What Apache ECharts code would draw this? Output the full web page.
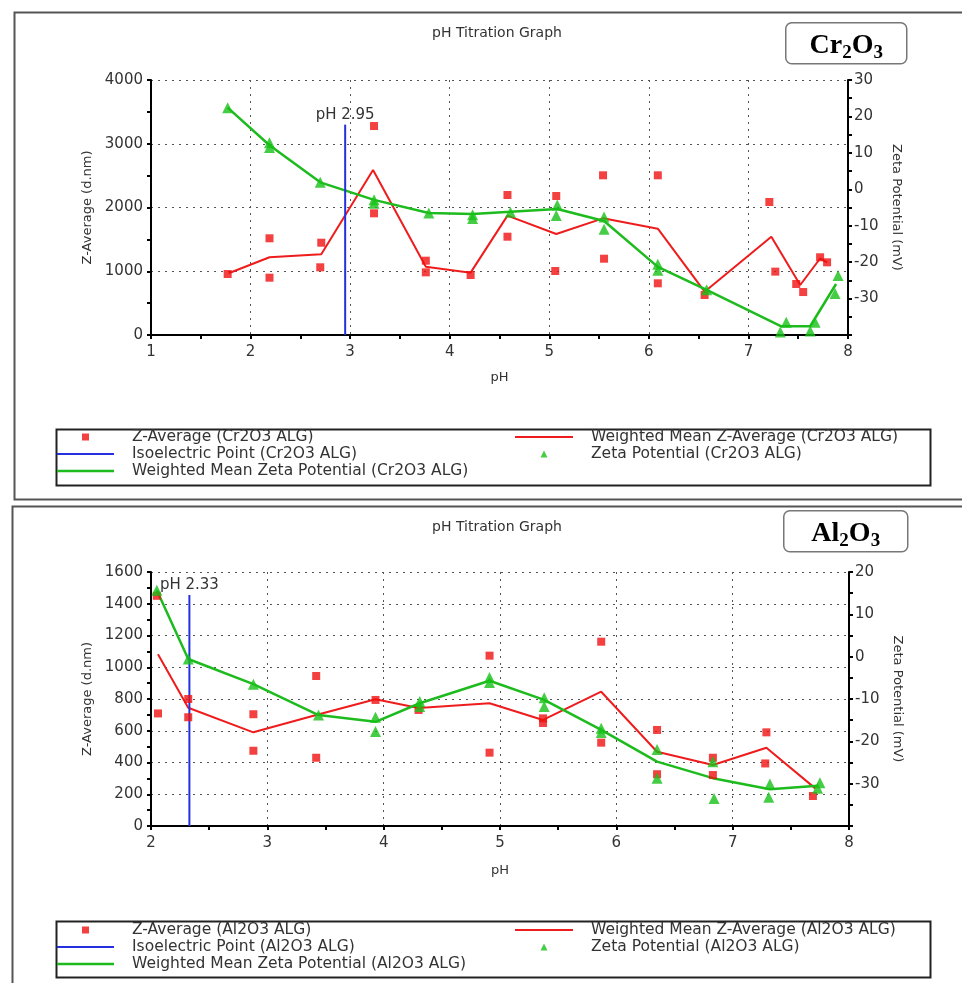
<!DOCTYPE html>
<html>
<head>
<meta charset="utf-8">
<script src="https://cdn.jsdelivr.net/npm/echarts@6/dist/echarts.min.js"></script>
<style>
  html, body { margin: 0; padding: 0; background: #fff; }
  #main { width: 962px; height: 983px; }
</style>
</head>
<body>
<div id="main"></div>
<script>
// --- Cr2O3 panel (pH, value) ---
const crZAvg = [[1.77,957],[2.19,1517],[2.19,899],[2.71,1448],[2.70,1062],[3.24,3278],[3.24,1909],
  [3.76,1166],[3.76,983],[4.21,941],[4.58,2196],[4.58,1542],[5.07,2180],[5.06,1004],[5.54,2505],
  [5.55,1197],[6.09,2505],[6.09,811],[6.56,627],[7.21,2086],[7.27,994],[7.48,800],[7.55,674],
  [7.72,1219],[7.79,1140]];
const crZAvgMean = [[1.78,968],[2.19,1219],[2.71,1266],[3.23,2588],[3.76,1072],[4.21,978],[4.58,1872],
  [5.07,1584],[5.54,1830],[6.09,1668],[6.56,680],[7.23,1542],[7.52,784],[7.72,1200],[7.79,1140]];
const crZeta = [[1.77,22.4],[2.19,12.8],[2.19,11.5],[2.70,1.9],[3.24,-2.9],[3.24,-3.8],[3.79,-6.5],
  [4.23,-7.0],[4.23,-8.0],[4.61,-6.3],[5.08,-4.3],[5.07,-7.2],[5.55,-7.6],[5.55,-11.0],[6.09,-20.6],
  [6.09,-22.2],[6.58,-27.6],[7.38,-36.5],[7.32,-39.2],[7.62,-38.9],[7.67,-36.5],[7.87,-28.6],[7.90,-23.7]];
const crZetaMean = [[1.77,22.4],[2.19,12.1],[2.70,1.9],[3.24,-2.9],[3.79,-6.5],[4.23,-6.8],[4.61,-6.2],
  [5.08,-5.4],[5.55,-8.7],[6.09,-21.3],[6.58,-27.6],[7.33,-37.6],[7.62,-37.6],[7.88,-26.0]];
const crIEP = [[2.95,0],[2.95,3300]];

// --- Al2O3 panel ---
const alZAvg = [[2.05,1450],[2.06,709],[2.32,800],[2.32,685],[2.88,704],[2.88,474],[3.42,945],[3.42,430],
  [3.93,794],[4.30,731],[4.91,1073],[4.91,462],[5.37,678],[5.37,649],[5.87,1161],[5.87,525],[6.35,605],
  [6.35,326],[6.83,430],[6.83,321],[7.29,590],[7.28,394],[7.69,189]];
const alZAvgMean = [[2.06,1082],[2.32,745],[2.88,590],[3.42,699],[3.93,798],[4.30,743],[4.91,773],
  [5.37,668],[5.87,846],[6.35,468],[6.83,384],[7.29,493],[7.71,237]];
const alZeta = [[2.05,15.7],[2.32,-0.55],[2.88,-6.5],[3.44,-13.8],[3.93,-14.3],[3.93,-17.7],[4.31,-10.6],
  [4.31,-11.8],[4.91,-4.9],[4.91,-6.1],[5.38,-9.7],[5.38,-11.8],[5.87,-16.9],[5.87,-17.9],[6.35,-21.9],
  [6.35,-28.7],[6.83,-24.8],[6.84,-33.5],[7.32,-30.1],[7.31,-33.2],[7.73,-31.1],[7.75,-29.8]];
const alZetaMean = [[2.05,15.7],[2.32,-0.55],[2.88,-6.5],[3.44,-13.8],[3.93,-15.4],[4.31,-11.0],[4.91,-5.7],
  [5.38,-10.2],[5.87,-17.3],[6.35,-24.8],[6.83,-28.7],[7.32,-31.3],[7.73,-30.5]];
const alIEP = [[2.33,0],[2.33,1455]];

const RED = '#ee1c1c', GREEN = '#1dbb1d', BLUE = '#2430e0';
const FONT = 'DejaVu Sans';
const TXT = '#333';

const chart = echarts.init(document.getElementById('main'));

function xAxisOf(gi, min, max, gap) {
  return {
    gridIndex: gi, type: 'value', min: min, max: max, interval: 1,
    name: 'pH', nameLocation: 'middle', nameGap: gap,
    nameTextStyle: { color: TXT, fontFamily: FONT, fontSize: 13 },
    axisLine: { show: true, onZero: false, lineStyle: { color: '#000', width: 2 } },
    axisTick: { show: true, length: 4, lineStyle: { color: '#000', width: 2 } },
    minorTick: { show: true, splitNumber: 2, length: 4, lineStyle: { color: '#000', width: 2 } },
    splitLine: { show: true, lineStyle: { color: '#555', type: [2, 5], width: 1 } },
    axisLabel: { color: TXT, fontFamily: FONT, fontSize: 15, margin: 10, formatter: v => String(v) }
  };
}
function leftAxisOf(gi, max, step) {
  return {
    gridIndex: gi, type: 'value', min: 0, max: max, interval: step, position: 'left',
    name: 'Z-Average (d.nm)', nameLocation: 'middle', nameGap: 57, nameRotate: 90,
    nameTextStyle: { color: TXT, fontFamily: FONT, fontSize: 13 },
    axisLine: { show: true, onZero: false, lineStyle: { color: '#000', width: 2 } },
    axisTick: { show: true, length: 4, lineStyle: { color: '#000', width: 2 } },
    minorTick: { show: true, splitNumber: 2, length: 4, lineStyle: { color: '#000', width: 2 } },
    splitLine: { show: true, lineStyle: { color: '#555', type: [2, 5], width: 1 } },
    axisLabel: { color: TXT, fontFamily: FONT, fontSize: 15, margin: 8, formatter: v => String(v) }
  };
}
function rightAxisOf(gi, min, max) {
  return {
    gridIndex: gi, type: 'value', min: min, max: max, interval: 10, position: 'right',
    name: 'Zeta Potential (mV)', nameLocation: 'middle', nameGap: 24, nameRotate: -90,
    nameTextStyle: { color: TXT, fontFamily: FONT, fontSize: 13 },
    axisLine: { show: true, onZero: false, lineStyle: { color: '#000', width: 2 } },
    axisTick: { show: true, length: 4, lineStyle: { color: '#000', width: 2 } },
    minorTick: { show: true, splitNumber: 2, length: 4, lineStyle: { color: '#000', width: 2 } },
    splitLine: { show: false },
    axisLabel: { color: TXT, fontFamily: FONT, fontSize: 15, margin: 6,
      formatter: v => (v === min ? '' : String(v)) }
  };
}

function panelSeries(tag, xi, yl, yr, zAvg, zAvgMean, zeta, zetaMean, iep) {
  const iepData = [iep[0], {
    value: iep[1],
    label: { show: true, position: 'top', distance: 2, formatter: 'pH ' + iep[1][0].toFixed(2),
      color: TXT, fontFamily: FONT, fontSize: 15 }
  }];
  return [
    { name: 'Weighted Mean Z-Average (' + tag + ' ALG)', type: 'line', xAxisIndex: xi, yAxisIndex: yl,
      data: zAvgMean, symbol: 'none', lineStyle: { color: RED, width: 2 }, itemStyle: { color: RED } },
    { name: 'Weighted Mean Zeta Potential (' + tag + ' ALG)', type: 'line', xAxisIndex: xi, yAxisIndex: yr,
      data: zetaMean, symbol: 'none', lineStyle: { color: GREEN, width: 2.5 }, itemStyle: { color: GREEN } },
    { name: 'Isoelectric Point (' + tag + ' ALG)', type: 'line', xAxisIndex: xi, yAxisIndex: yl,
      data: iepData, symbol: 'circle', symbolSize: 0, showSymbol: true,
      lineStyle: { color: BLUE, width: 2 }, itemStyle: { color: BLUE } },
    { name: 'Z-Average (' + tag + ' ALG)', type: 'scatter', xAxisIndex: xi, yAxisIndex: yl,
      data: zAvg, symbol: 'rect', symbolSize: 8, itemStyle: { color: '#f01010' }, z: 3 },
    { name: 'Zeta Potential (' + tag + ' ALG)', type: 'scatter', xAxisIndex: xi, yAxisIndex: yr,
      data: zeta, symbol: 'triangle', symbolSize: 11, itemStyle: { color: '#18c018' }, z: 4, clip: false }
  ];
}

const SQ = 'path://M0,0H1V1H0Z';
const TRI = 'path://M0.5,0L1,1L0,1Z';
const BAR2 = 'path://M0,0H57V2H0Z';
const BAR3 = 'path://M0,0H57V2.6H0Z';
function legendsOf(tag, top) {
  const common = {
    orient: 'vertical', top: top, padding: 0, itemGap: 0, itemHeight: 7, selectedMode: false,
    textStyle: { color: TXT, fontFamily: FONT, fontSize: 15.5, lineHeight: 17, padding: [0, 0, 0, 13] }
  };
  return [
    Object.assign({}, common, { left: 57, itemWidth: 57, data: [
      { name: 'Z-Average (' + tag + ' ALG)', icon: SQ },
      { name: 'Isoelectric Point (' + tag + ' ALG)', icon: BAR2 },
      { name: 'Weighted Mean Zeta Potential (' + tag + ' ALG)', icon: BAR3 }
    ] }),
    Object.assign({}, common, { left: 515, itemWidth: 58, data: [
      { name: 'Weighted Mean Z-Average (' + tag + ' ALG)', icon: BAR2 },
      { name: 'Zeta Potential (' + tag + ' ALG)', icon: TRI }
    ] })
  ];
}

function formulaBox(x, y, w, h, parts) {
  return {
    type: 'group', left: x, top: y, children: [
      { type: 'rect', shape: { x: 0, y: 0, width: w, height: h, r: 6 },
        style: { fill: '#fff', stroke: '#777', lineWidth: 1.5 } },
      { type: 'text', x: w / 2, y: h / 2 + 4, style: {
          text: parts, align: 'center', verticalAlign: 'middle',
          rich: {
            a: { fontFamily: 'Liberation Serif', fontWeight: 'bold', fontSize: 28, lineHeight: 30,
                 verticalAlign: 'top', padding: [0, 0, 9, 0], fill: '#000' },
            s: { fontFamily: 'Liberation Serif', fontWeight: 'bold', fontSize: 19, lineHeight: 20,
                 verticalAlign: 'bottom', fill: '#000' }
          } } }
    ]
  };
}

const option = {
  backgroundColor: '#fff',
  animation: false,
  title: [
    { text: 'pH Titration Graph', left: 492, top: 21, textAlign: 'center',
      textStyle: { color: TXT, fontFamily: FONT, fontSize: 14, fontWeight: 'normal' } },
    { text: 'pH Titration Graph', left: 492, top: 515, textAlign: 'center',
      textStyle: { color: TXT, fontFamily: FONT, fontSize: 14, fontWeight: 'normal' } }
  ],
  grid: [
    { left: 151, top: 80, width: 697, height: 255 },
    { left: 151, top: 572, width: 698, height: 254 }
  ],
  xAxis: [xAxisOf(0, 1, 8, 36), xAxisOf(1, 2, 8, 38)],
  yAxis: [leftAxisOf(0, 4000, 1000), rightAxisOf(0, -40, 30), leftAxisOf(1, 1600, 200), rightAxisOf(1, -40, 20)],
  legend: legendsOf('Cr2O3', 428.5).concat(legendsOf('Al2O3', 921.5)),
  series: panelSeries('Cr2O3', 0, 0, 1, crZAvg, crZAvgMean, crZeta, crZetaMean, crIEP)
    .concat(panelSeries('Al2O3', 1, 2, 3, alZAvg, alZAvgMean, alZeta, alZetaMean, alIEP)),
  graphic: [
    { type: 'rect', left: 12, top: 10, silent: true, z: -10,
      shape: { width: 960, height: 487 }, style: { fill: 'none', stroke: '#555', lineWidth: 2 } },
    { type: 'rect', left: 10, top: 504, silent: true, z: -10,
      shape: { width: 960, height: 490 }, style: { fill: 'none', stroke: '#555', lineWidth: 2 } },
    { type: 'rect', left: 54, top: 427, silent: true, z: -5,
      shape: { width: 874, height: 56 }, style: { fill: 'none', stroke: '#222', lineWidth: 2 } },
    { type: 'rect', left: 54, top: 919, silent: true, z: -5,
      shape: { width: 874, height: 56 }, style: { fill: 'none', stroke: '#222', lineWidth: 2 } },
    formulaBox(785, 22, 121, 41, '{a|Cr}{s|2}{a|O}{s|3}'),
    formulaBox(783, 510, 124, 41, '{a|Al}{s|2}{a|O}{s|3}')
  ]
};
chart.setOption(option);
</script>
</body>
</html>
